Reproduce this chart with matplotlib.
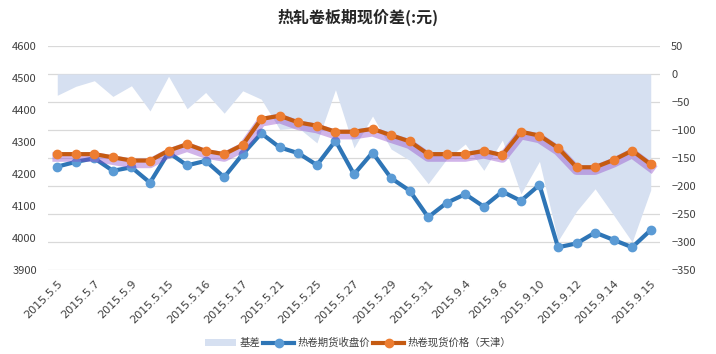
"""
热轧卷板期现价差 chart: futures close, Tianjin spot and basis area.
"""
import matplotlib
matplotlib.use('Agg')
import matplotlib.pyplot as plt
import matplotlib.patheffects as pe
from matplotlib.patches import Patch
from matplotlib.lines import Line2D
import numpy as np

plt.rcParams['font.family'] = ['Noto Sans CJK SC', 'DejaVu Sans']

# values
futures = [4223, 4238, 4249, 4210, 4221, 4173, 4267, 4227, 4241, 4190,
           4262, 4327, 4283, 4265, 4228, 4304, 4199, 4267, 4187, 4148,
           4065, 4110, 4137, 4098, 4145, 4116, 4166, 3971, 3983, 4017,
           3994, 3971, 4025]
spot = [4262, 4262, 4262, 4252, 4242, 4242, 4273, 4293, 4272, 4262,
        4291, 4372, 4382, 4361, 4351, 4332, 4332, 4341, 4321, 4302,
        4262, 4262, 4262, 4272, 4259, 4332, 4320, 4282, 4221, 4221,
        4244, 4273, 4230]
basis = [-38, -22, -12, -40, -21, -66, -4, -62, -33, -70,
         -30, -45, -99, -96, -123, -28, -132, -75, -134, -154,
         -196, -152, -125, -172, -118, -214, -156, -298, -245, -205,
         -252, -300, -207]
tick_labels = ['2015.5.5', '2015.5.7', '2015.5.9', '2015.5.15', '2015.5.16',
               '2015.5.17', '2015.5.21', '2015.5.25', '2015.5.27', '2015.5.29',
               '2015.5.31', '2015.9.4', '2015.9.6', '2015.9.10', '2015.9.12',
               '2015.9.14', '2015.9.15']

x = np.arange(len(futures))

fig = plt.figure(figsize=(7.16, 3.54), dpi=100)
ax2 = fig.add_axes([48 / 716, 84 / 354, 612 / 716, 224 / 354])
ax1 = ax2.twinx()
ax1.yaxis.tick_left()
ax2.yaxis.tick_right()
ax1.set_zorder(ax2.get_zorder() + 1)
ax1.patch.set_visible(False)

area_color = '#D6E0F1'
blue_line, blue_mark = '#2E75B6', '#5B9BD5'
orange_line, orange_mark = '#C55A11', '#ED7D31'

# basis area on the right axis
ax2.fill_between(x, 0, basis, color=area_color, linewidth=0, zorder=2)
ax2.set_ylim(-350, 50)
ax2.set_yticks(np.arange(-350, 51, 50))
ax2.grid(True, axis='y', color='#D9D9D9', linewidth=0.9, zorder=0)
ax2.set_axisbelow(True)

# price lines on the left axis
ax1.plot(x, futures, color=blue_line, lw=3, marker='o', ms=6,
         mfc=blue_mark, mec=blue_mark, zorder=3)
# spot line: purple glow under the line only, markers drawn on top
ax1.plot(x, spot, color=orange_line, lw=3, zorder=4,
         path_effects=[pe.SimpleLineShadow(offset=(0, -2), shadow_color='#8E44C8',
                                           alpha=0.4, linewidth=7),
                       pe.Normal()])
ax1.plot(x, spot, linestyle='none', marker='o', ms=6,
         mfc=orange_mark, mec=orange_mark, zorder=5)
ax1.set_ylim(3900, 4600)
ax1.set_yticks(np.arange(3900, 4601, 100))

ax1.set_xlim(-0.5, len(x) - 0.5)
ax2.set_xticks(x[::2])
ax2.set_xticklabels(tick_labels, rotation=45, ha='right', va='top',
                    rotation_mode='anchor', fontsize=7, color='#404040',
                    family=['DejaVu Sans'])

for a in (ax1, ax2):
    for s in a.spines.values():
        s.set_visible(False)
    a.tick_params(length=0, labelsize=8, labelcolor='#404040')
ax1.tick_params(axis='y', pad=8)
ax2.tick_params(axis='y', pad=8)
ax2.tick_params(axis='x', pad=6)

fig.suptitle('热轧卷板期现价差(:元)', x=0.5, y=0.975, fontsize=11.5,
             fontweight='bold', color='#262626')

handles = [Patch(facecolor=area_color, edgecolor='none'),
           Line2D([], [], color=blue_line, lw=3, marker='o', ms=6,
                  mfc=blue_mark, mec=blue_mark),
           Line2D([], [], color=orange_line, lw=3, marker='o', ms=6,
                  mfc=orange_mark, mec=orange_mark)]
names = ['基差', '热卷期货收盘价', '热卷现货价格（天津）']
fig.legend(handles, names, loc='center', bbox_to_anchor=(0.5, 11 / 354), ncol=3,
           frameon=False, fontsize=7.5, handlelength=3, handletextpad=0.3,
           columnspacing=0.3, labelcolor='#404040')

fig.savefig('out.png', dpi=100)
